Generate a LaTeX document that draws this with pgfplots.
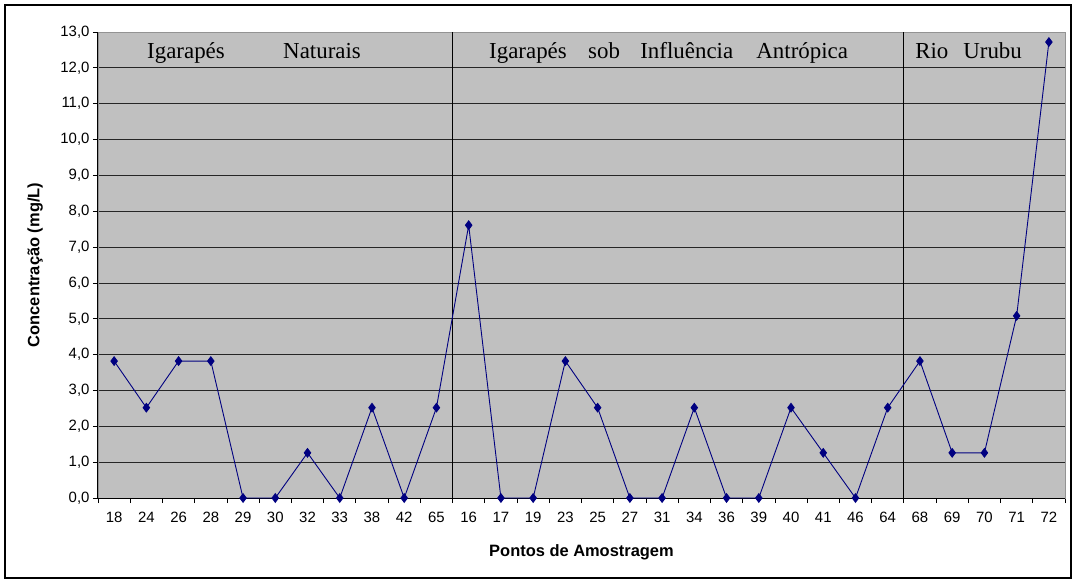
\documentclass[border=0pt]{standalone}
\usepackage{fontspec}
\setmainfont{Liberation Sans}
\newfontfamily\timesf{Liberation Serif}
\usepackage{pgfplots}
\pgfplotsset{compat=1.18}
\usetikzlibrary{calc}
\definecolor{plotbg}{RGB}{192,192,192}
\definecolor{navy}{RGB}{0,0,128}

\begin{document}
\begin{tikzpicture}
\begin{axis}[
    name=ax,
    scale only axis, width=967bp, height=466bp,
    xmin=-0.5, xmax=29.5, ymin=0, ymax=13,
    clip=false,
    axis background/.style={fill=plotbg},
    axis line style={draw=gray!85, line width=0.8bp},
    xtick={0,...,29},
    xticklabels={18,24,26,28,29,30,32,33,38,42,65,16,17,19,23,25,27,31,34,36,39,40,41,46,64,68,69,70,71,72},
    minor xtick={-0.5,0.5,...,29.5},
    major x tick style={draw=none},
    ytick={0,1,...,13},
    tick pos=left,
    tick align=outside,
    major tick length=5bp, minor tick length=5bp,
    tick style={black, line width=0.8bp},
    ymajorgrids,
    major grid style={black!85, line width=0.7bp},
    ticklabel style={font=\fontsize{15}{17}\selectfont},
    xticklabel style={yshift=-6bp},
    /pgf/number format/.cd, use comma, fixed, fixed zerofill, precision=1, assume math mode=true,
    /pgfplots/.cd,
    xlabel={\bfseries Pontos de Amostragem},
    ylabel={\bfseries Concentração (mg/L)},
    label style={font=\fontsize{16.5}{18}\selectfont},
    xlabel style={at={(axis description cs:0.5,-0.1159)}, anchor=center},
    ylabel style={at={(axis description cs:-0.0651,0.5)}, anchor=center},
]
% left and bottom axis lines, section separators
\draw[black, line width=1bp] (rel axis cs:0,0) -- (rel axis cs:0,1);
\draw[black, line width=1bp] (rel axis cs:0,0) -- (rel axis cs:1,0);
\draw[black, line width=0.8bp] (axis cs:10.5,0) -- (axis cs:10.5,13);
\draw[black, line width=0.8bp] (axis cs:24.5,0) -- (axis cs:24.5,13);

\addplot[navy, line width=0.9bp, mark=diamond*, mark size=4.3bp,
    mark options={fill=navy, draw=navy}] coordinates {
    (0,3.82) (1,2.52) (2,3.82) (3,3.82) (4,0) (5,0) (6,1.26) (7,0)
    (8,2.52) (9,0) (10,2.52) (11,7.61) (12,0) (13,0) (14,3.82) (15,2.52)
    (16,0) (17,0) (18,2.52) (19,0) (20,0) (21,2.52) (22,1.26) (23,0)
    (24,2.52) (25,3.82) (26,1.26) (27,1.26) (28,5.08) (29,12.72)
};

% section titles
\begin{scope}[every node/.style={anchor=base west, inner sep=0pt, font=\timesf\fontsize{23}{25}\selectfont}]
\node at (axis cs:1.02,12.27) {Igarapés};
\node at (axis cs:5.24,12.27) {Naturais};
\node at (axis cs:11.63,12.27) {Igarapés};
\node at (axis cs:14.70,12.27) {sob};
\node at (axis cs:16.32,12.27) {Influência};
\node at (axis cs:19.92,12.27) {Antrópica};
\node at (axis cs:24.85,12.27) {Rio};
\node at (axis cs:26.34,12.27) {Urubu};
\end{scope}
\end{axis}
\draw[line width=1.5bp] ($(ax.south west)+(-93bp,-80bp)$) rectangle ($(ax.north east)+(6bp,27bp)$);
\pgfresetboundingbox
\path[use as bounding box] ($(ax.south west)+(-98bp,-81bp)$) rectangle ($(ax.north east)+(7bp,32bp)$);
\end{tikzpicture}
\end{document}
